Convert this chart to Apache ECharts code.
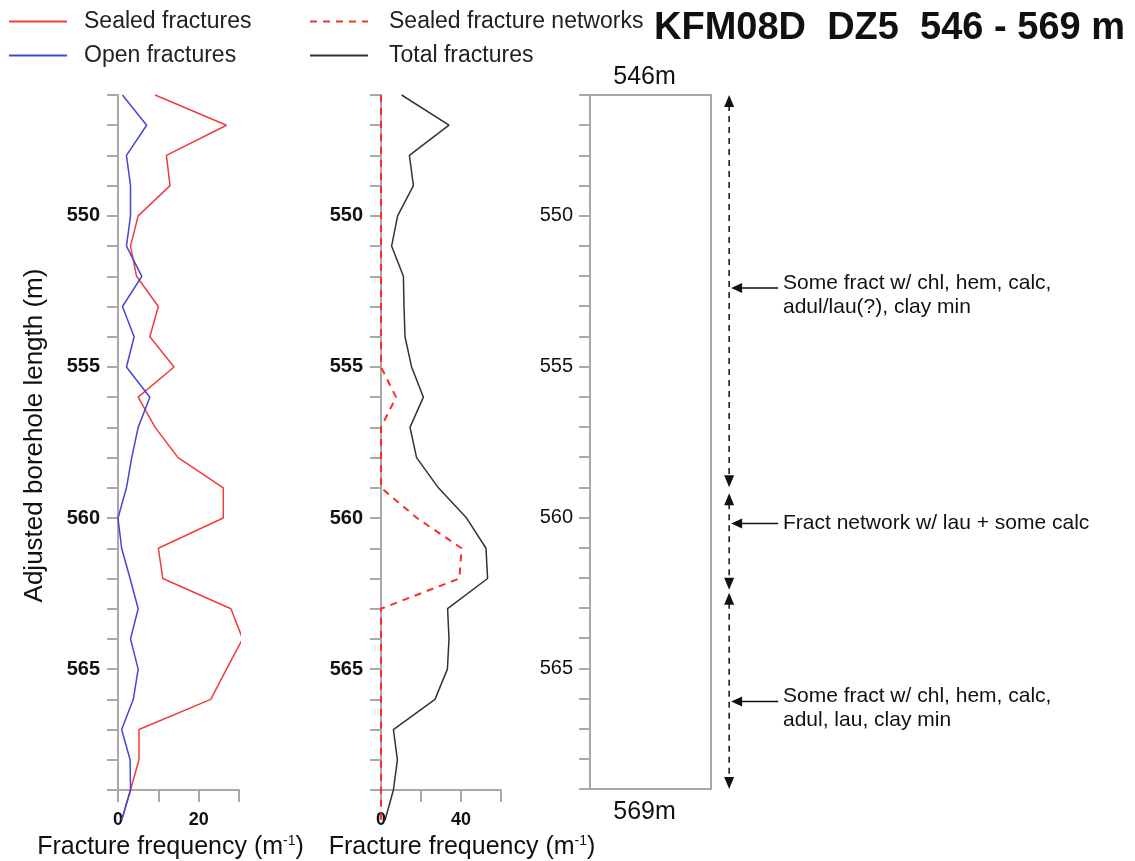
<!DOCTYPE html>
<html>
<head>
<meta charset="utf-8">
<script src="https://cdn.jsdelivr.net/npm/echarts@6/dist/echarts.min.js"></script>
<style>
  html, body { margin: 0; padding: 0; background: #fff; }
  #main { width: 1135px; height: 861px; }
</style>
</head>
<body>
<div id="main"></div>
<script>
// depth of each reading (m, adjusted borehole length)
var depths = [546, 547, 548, 549, 550, 551, 552, 553, 554, 555, 556, 557, 558,
              559, 560, 561, 562, 563, 564, 565, 566, 567, 568, 569, 570];
// fracture frequency (1/m)
var sealed = [9.2, 26.9, 12.0, 12.9, 5.0, 3.1, 4.6, 10.0, 7.9, 13.9, 5.0, 9.2, 14.9,
              26.1, 26.1, 10.0, 11.1, 28.0, 30.9, 26.9, 23.0, 5.2, 5.2, 3.1, 0.9];
var openFr = [1.1, 7.1, 2.1, 3.1, 3.1, 2.1, 5.9, 1.1, 4.0, 2.1, 7.9, 5.0, 3.4,
              2.1, 0, 0.9, 3.0, 5.0, 3.1, 5.0, 3.8, 0.9, 3.0, 3.1, 0.9];
var sealedNetworks = [0, 0, 0, 0, 0, 0, 0, 0, 0, 0, 7.5, 0, 0,
                      0, 18, 40.3, 39.2, 0, 0, 0, 0, 0, 0, 0, 0];
var total = [10.3, 34, 14.2, 16.2, 8.3, 5.3, 11.2, 11.5, 12, 15.3, 21.2, 14.5, 17.8,
             28.7, 42.8, 52.5, 53.3, 33.3, 34, 33.2, 27, 6.2, 8.2, 6.2, 2];

// tick labels
var depthLabels = [550, 555, 560, 565];
var freqLabels1 = [0, 20];
var freqLabels2 = [0, 40];

// annotation zones (top, bottom) and notes on the core column
var zones = [[546, 559], [559.2, 562.4], [562.5, 569]];
var noteDepths = [552.4, 560.2, 566.1];
var noteTexts = [
  'Some fract w/ chl, hem, calc,\nadul/lau(?), clay min',
  'Fract network w/ lau + some calc',
  'Some fract w/ chl, hem, calc,\nadul, lau, clay min'
];

var FONT = '"Liberation Sans", Arial, sans-serif';
var AXIS_GREY = '#a8a8a8';

function pairs(vals) {
  return depths.map(function (d, i) { return [vals[i], d]; });
}

function depthAxis(gridIndex, bold, margin, extra) {
  var ax = {
    type: 'value', gridIndex: gridIndex, inverse: true,
    min: 546, max: 569, interval: 1,
    axisLine: { show: true, lineStyle: { color: AXIS_GREY, width: 2 } },
    axisTick: { show: true, length: 11, lineStyle: { color: AXIS_GREY, width: 2 } },
    axisLabel: {
      margin: margin, fontSize: 20, fontFamily: FONT, color: '#111',
      fontWeight: bold ? 'bold' : 'normal',
      formatter: function (v) { return depthLabels.indexOf(v) >= 0 ? String(v) : ''; }
    },
    splitLine: { show: false }
  };
  for (var k in extra) ax[k] = extra[k];
  return ax;
}

var nameRich = {
  sup: { fontSize: 14, fontFamily: FONT, color: '#111', padding: [0, 0, 12, 0] }
};

function freqAxis(gridIndex, max, interval, labels, namePad) {
  return {
    type: 'value', gridIndex: gridIndex, min: 0, max: max, interval: interval,
    axisLine: { show: true, onZero: false, lineStyle: { color: AXIS_GREY, width: 2 } },
    axisTick: { show: true, length: 12, lineStyle: { color: AXIS_GREY, width: 2 } },
    axisLabel: {
      margin: 21, fontSize: 18, fontWeight: 'bold', fontFamily: FONT, color: '#111',
      formatter: function (v) { return labels.indexOf(v) >= 0 ? String(v) : ''; }
    },
    splitLine: { show: false },
    name: 'Fracture frequency (m{sup|-1})',
    nameLocation: 'middle', nameGap: 42,
    nameTextStyle: { fontSize: 25, fontFamily: FONT, color: '#111', padding: namePad, rich: nameRich }
  };
}

var chart = echarts.init(document.getElementById('main'));

var option = {
  animation: false,
  backgroundColor: '#fff',
  title: {
    text: 'KFM08D  DZ5  546 - 569 m',
    right: 10, top: 10, padding: 0,
    textStyle: { fontSize: 38, fontWeight: 'bold', fontFamily: FONT, color: '#111' }
  },
  legend: [
    {
      data: ['Sealed fractures', 'Open fractures'],
      orient: 'vertical', left: 8, top: 10, padding: 0,
      itemWidth: 58, itemHeight: 14, itemGap: 11,
      itemStyle: { opacity: 0 },
      textStyle: { fontSize: 23, fontFamily: FONT, color: '#222', padding: [0, 0, 0, 12] }
    },
    {
      data: ['Sealed fracture networks', 'Total fractures'],
      orient: 'vertical', left: 309, top: 10, padding: 0,
      itemWidth: 58, itemHeight: 14, itemGap: 11,
      itemStyle: { opacity: 0 },
      textStyle: { fontSize: 23, fontFamily: FONT, color: '#222', padding: [0, 0, 0, 16] }
    }
  ],
  grid: [
    { left: 118, top: 95, width: 121, height: 695, outerBoundsMode: 'none', containLabel: false },
    { left: 381, top: 95, width: 120, height: 695, outerBoundsMode: 'none', containLabel: false },
    { left: 590, top: 95, width: 121, height: 694, outerBoundsMode: 'none', containLabel: false,
      show: true, borderColor: '#8c8c8c', borderWidth: 1.5, backgroundColor: 'transparent' }
  ],
  xAxis: [
    freqAxis(0, 30, 10, freqLabels1, [0, 16, 0, 0]),
    freqAxis(1, 60, 20, freqLabels2, [0, 0, 0, 42]),
    {
      type: 'value', gridIndex: 2, position: 'top', min: 0, max: 1,
      axisLine: { show: false }, axisTick: { show: false }, axisLabel: { show: false },
      splitLine: { show: false },
      name: '546m', nameLocation: 'middle', nameGap: 5,
      nameTextStyle: { fontSize: 25, fontFamily: FONT, color: '#111', padding: [0, 12, 0, 0] }
    },
    {
      type: 'value', gridIndex: 2, position: 'bottom', min: 0, max: 1,
      axisLine: { show: false }, axisTick: { show: false }, axisLabel: { show: false },
      splitLine: { show: false },
      name: '569m', nameLocation: 'middle', nameGap: 11,
      nameTextStyle: { fontSize: 25, fontFamily: FONT, color: '#111', padding: [0, 12, 0, 0] }
    }
  ],
  yAxis: [
    depthAxis(0, true, 18, {
      name: 'Adjusted borehole length (m)', nameLocation: 'middle', nameGap: 70,
      nameTextStyle: { fontSize: 26, fontFamily: FONT, color: '#111', padding: [0, 0, 0, 14] }
    }),
    depthAxis(1, true, 18, {}),
    depthAxis(2, false, 17, {})
  ],
  series: [
    {
      name: 'Sealed fractures', type: 'line', xAxisIndex: 0, yAxisIndex: 0,
      data: pairs(sealed), symbol: 'none', clip: false,
      lineStyle: { color: '#f23c3c', width: 1.5 }, itemStyle: { color: '#f23c3c' }
    },
    {
      name: 'Open fractures', type: 'line', xAxisIndex: 0, yAxisIndex: 0,
      data: pairs(openFr), symbol: 'none', clip: false,
      lineStyle: { color: '#4646d6', width: 1.5 }, itemStyle: { color: '#4646d6' }
    },
    {
      name: 'Total fractures', type: 'line', xAxisIndex: 1, yAxisIndex: 1,
      data: pairs(total), symbol: 'none', clip: false,
      lineStyle: { color: '#333', width: 1.5 }, itemStyle: { color: '#555' }
    },
    {
      name: 'Sealed fracture networks', type: 'line', xAxisIndex: 1, yAxisIndex: 1,
      data: pairs(sealedNetworks), symbol: 'none', clip: false,
      lineStyle: { color: '#ff2a2a', width: 2, type: [7, 6] }, itemStyle: { color: '#ff2a2a' }
    },
    {
      // dashed double-headed arrows beside the core column
      type: 'custom', xAxisIndex: 2, yAxisIndex: 2, silent: true, clip: false,
      data: zones,
      renderItem: function (params, api) {
        var a = api.coord([1.15, api.value(0)]);
        var b = api.coord([1.15, api.value(1)]);
        var x = a[0];
        return {
          type: 'group',
          children: [
            { type: 'line', shape: { x1: x, y1: a[1] + 10, x2: x, y2: b[1] - 10 },
              style: { stroke: '#111', lineWidth: 1.5, lineDash: [6, 5] } },
            { type: 'polygon', shape: { points: [[x, a[1]], [x - 5, a[1] + 12], [x + 5, a[1] + 12]] },
              style: { fill: '#111' } },
            { type: 'polygon', shape: { points: [[x, b[1]], [x - 5, b[1] - 12], [x + 5, b[1] - 12]] },
              style: { fill: '#111' } }
          ]
        };
      }
    },
    {
      // pointers and notes
      type: 'custom', xAxisIndex: 2, yAxisIndex: 2, silent: true, clip: false,
      data: noteDepths.map(function (d) { return [1.15, d]; }),
      renderItem: function (params, api) {
        var p = api.coord([1.15, api.value(1)]);
        var tail = api.coord([1.555, api.value(1)]);
        var txt = api.coord([1.595, api.value(1)]);
        var lines = noteTexts[params.dataIndex].split('\n').length;
        return {
          type: 'group',
          children: [
            { type: 'line', shape: { x1: p[0] + 10, y1: p[1], x2: tail[0], y2: tail[1] },
              style: { stroke: '#111', lineWidth: 1.5 } },
            { type: 'polygon', shape: { points: [[p[0] + 2, p[1]], [p[0] + 13, p[1] - 5], [p[0] + 13, p[1] + 5]] },
              style: { fill: '#111' } },
            { type: 'text', x: txt[0], y: txt[1] - (lines > 1 ? 17 : 12),
              style: { text: noteTexts[params.dataIndex], fill: '#111', fontSize: 21,
                       fontFamily: FONT, lineHeight: 24, verticalAlign: 'top', align: 'left' } }
          ]
        };
      }
    }
  ]
};

chart.setOption(option);
</script>
</body>
</html>
